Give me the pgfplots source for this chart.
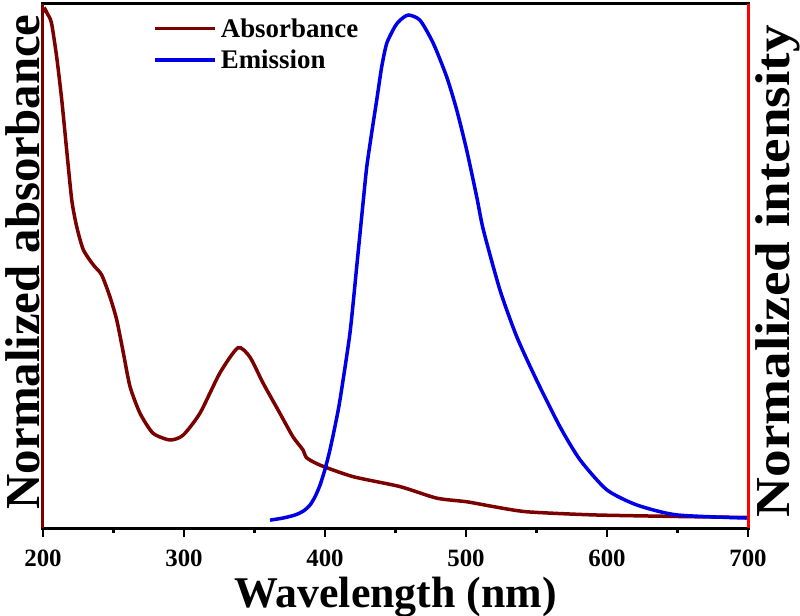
\documentclass[border=0pt]{standalone}
\usepackage{fontspec}
\setmainfont{Liberation Serif}
\usepackage{pgfplots}
\pgfplotsset{compat=1.18}
\definecolor{absbrown}{RGB}{123,0,0}
\definecolor{emblue}{RGB}{0,0,230}
\definecolor{spinered}{RGB}{255,0,0}
\definecolor{axblack}{RGB}{0,0,0}
\begin{document}
\begin{tikzpicture}
\begin{axis}[
  at={(0,0)}, anchor=south west,
  scale only axis, width=705bp, height=524bp,
  xmin=200, xmax=700, ymin=0, ymax=1,
  axis line style={draw=axblack, line width=3bp},
  xtick={200,300,400,500,600,700},
  minor xtick={250,350,450,550,650},
  ytick=\empty,
  xtick pos=left, xtick align=outside,
  major tick length=9bp, minor tick length=5bp,
  xtick style={draw=axblack, line width=2.5bp},
  /pgf/number format/assume math mode=true,
  /pgf/number format/1000 sep={},
  xticklabel style={font=\fontsize{25}{25}\selectfont\bfseries, yshift=-9bp},
  xlabel={Wavelength (nm)},
  xlabel style={at={(axis description cs:0.5,0)}, anchor=base, yshift=-79bp, font=\fontsize{44}{44}\selectfont\bfseries},
  ylabel={Normalized absorbance},
  ylabel style={at={(axis description cs:-0.0284,0.508)}, anchor=center, rotate=0, font=\fontsize{49}{49}\selectfont\bfseries},
  clip=false,
  legend style={at={(axis description cs:0.152,0.98)}, anchor=north west, draw=none, fill=none,
    font=\fontsize{27}{27}\selectfont\bfseries, row sep=7bp,
    nodes={inner xsep=4bp}},
  legend cell align=left,
  legend image code/.code={\draw[#1] (0bp,0bp) -- (60bp,0bp);},
]
\addplot[absbrown, line width=3.5bp, smooth, tension=0.4] coordinates {
(200,0.985) (201.5,0.99) (203,0.982) (206,0.964) (209.7,0.899) (213.3,0.817)
(216.8,0.721) (220.4,0.626) (223.9,0.575) (228.6,0.531) (235.7,0.502)
(241.6,0.483) (247.5,0.441) (252.3,0.397) (257,0.334) (261.7,0.270)
(268.8,0.219) (278,0.181) (290,0.168) (299.3,0.177) (311.3,0.219)
(325.5,0.296) (338.3,0.344) (346.8,0.326) (356,0.277) (368,0.219)
(377.3,0.174) (384.4,0.149) (387,0.134) (396.5,0.120) (419.9,0.098)
(453.2,0.079) (479.2,0.057) (500.7,0.050) (519.1,0.041) (543.0,0.031)
(590.1,0.025) (649.4,0.022) (700,0.020)
};
\addlegendentry{Absorbance}
\addplot[emblue, line width=3.5bp, smooth, tension=0.4] coordinates {
(361.0,0.015) (370.2,0.019) (379,0.025) (385,0.033) (389.4,0.044) (393,0.060)
(396.5,0.082) (400,0.112) (403.5,0.149) (407,0.193)
(410.6,0.244) (417.7,0.372) (422.5,0.499) (427.2,0.626) (429.6,0.689)
(433.1,0.754) (436.7,0.817) (440.2,0.880) (443.8,0.925) (449.6,0.957)
(453.2,0.969) (459.1,0.979) (467.4,0.969) (476.8,0.925) (486.3,0.861)
(493.4,0.798) (500.5,0.721) (507.6,0.632) (512.3,0.569) (524.1,0.454)
(536.0,0.365) (550.1,0.282) (566.7,0.193) (580.9,0.130) (599.8,0.073)
(621.1,0.044) (649.4,0.025) (699.1,0.019)
};
\addlegendentry{Emission}
\fill[axblack] ([yshift=-1.5bp]rel axis cs:0,1) rectangle ([yshift=1.5bp]rel axis cs:1,1);
\fill[axblack] ([yshift=-1.5bp]rel axis cs:0,0) rectangle ([yshift=1.5bp]rel axis cs:1,0);
\draw[absbrown, line width=3bp] (rel axis cs:0,0) -- (rel axis cs:0,1);
\draw[spinered, line width=3bp] (rel axis cs:1,0) -- (rel axis cs:1,1);
\node[rotate=90, anchor=center, font=\fontsize{49}{49}\selectfont\bfseries] at (axis description cs:1.043,0.49) {\scalebox{1.13}[1]{Normalized intensity}};
\end{axis}
\pgfresetboundingbox
\path[use as bounding box] (-43bp,-88bp) rectangle (757bp,528bp);
\end{tikzpicture}
\end{document}
